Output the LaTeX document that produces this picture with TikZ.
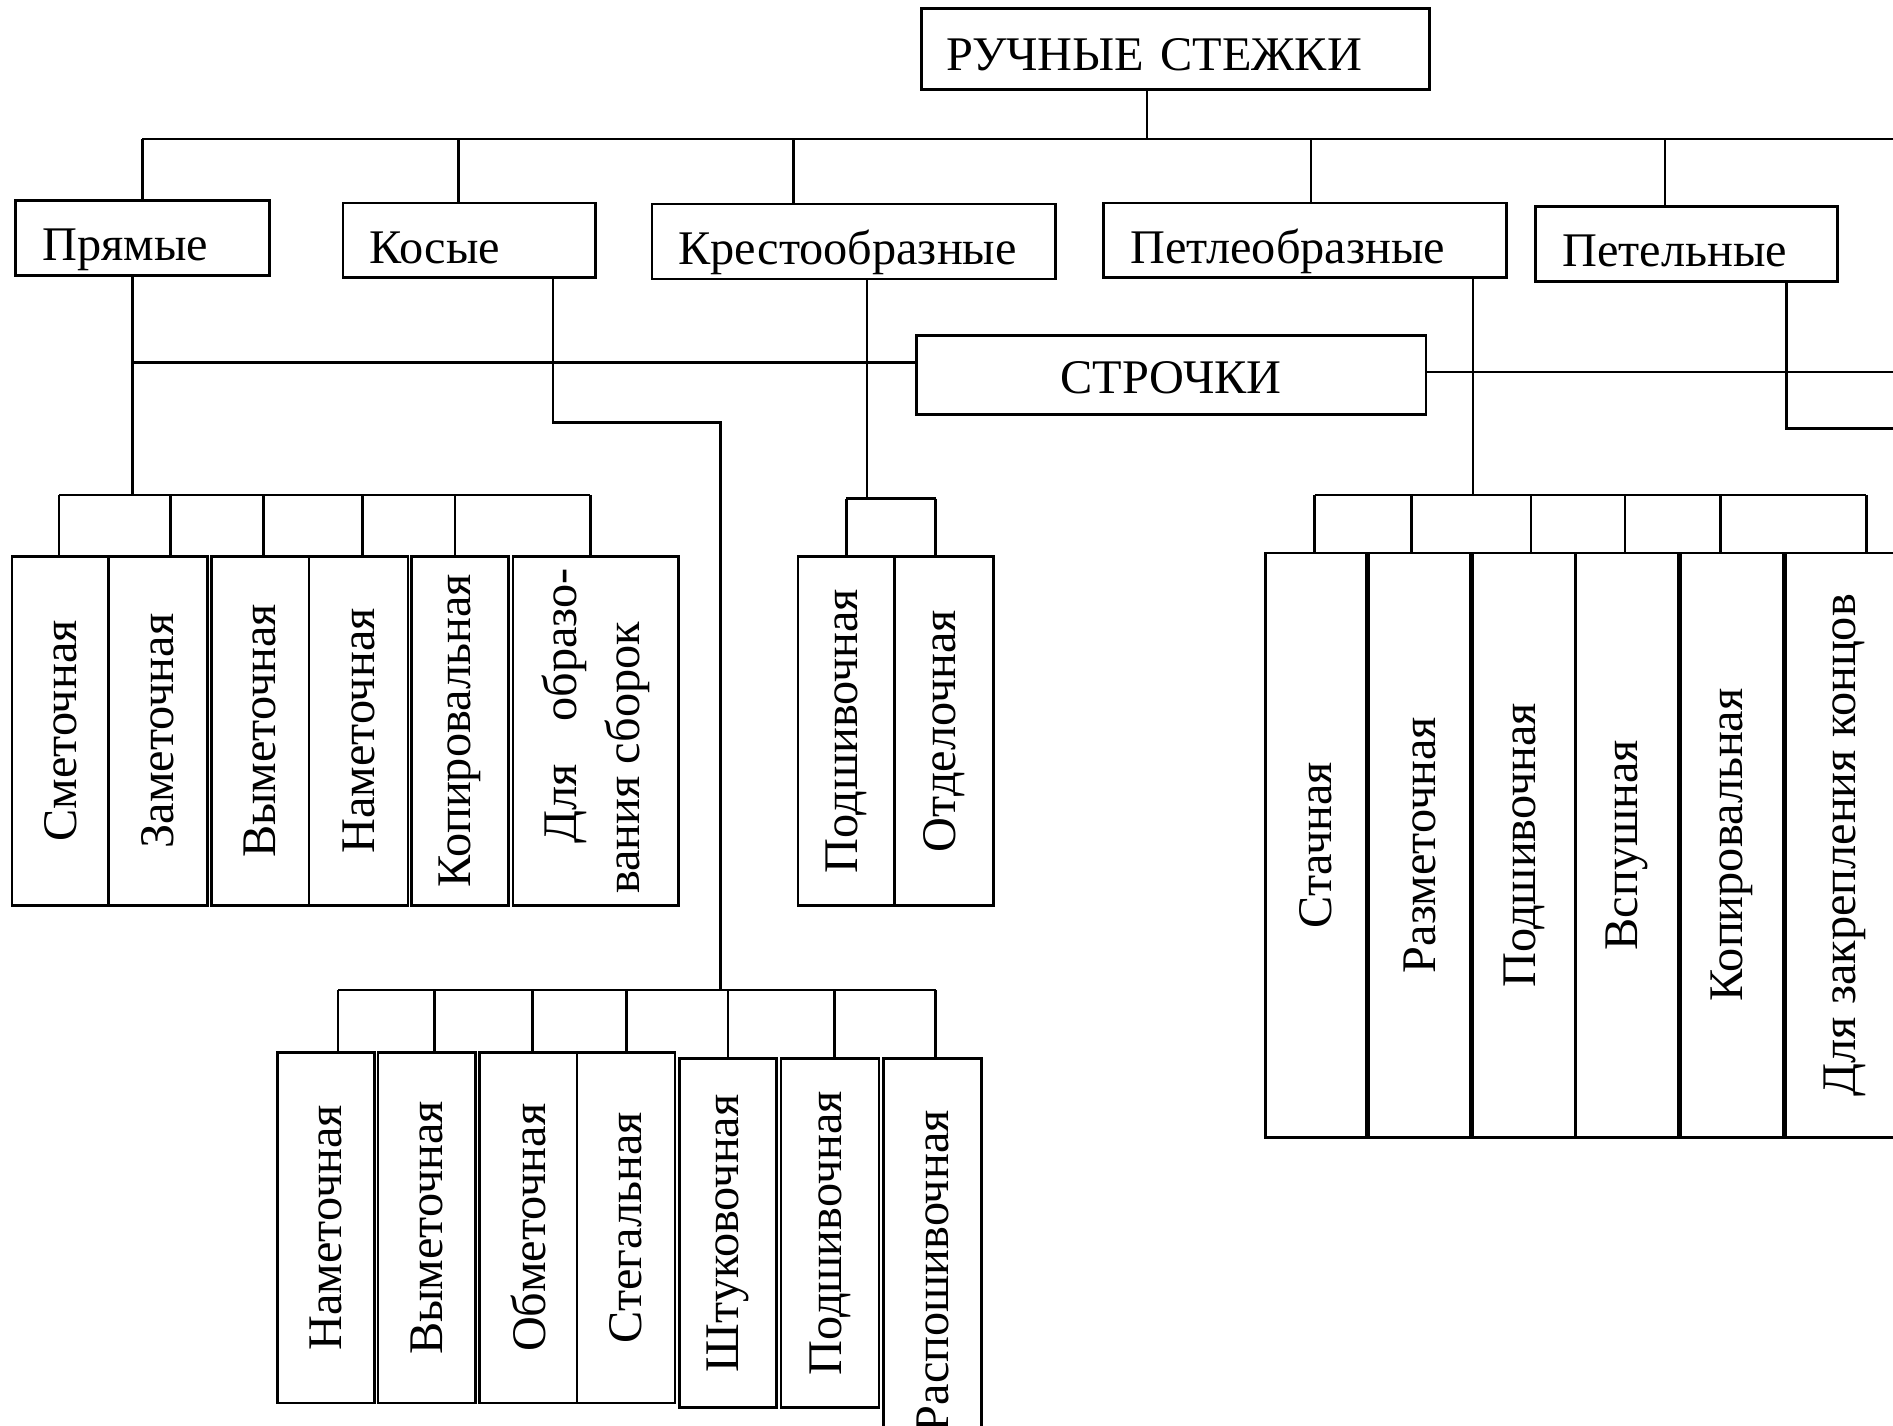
\documentclass[tikz,border=0pt]{standalone}
\usepackage{fontspec}
\setmainfont{Liberation Serif}
\usetikzlibrary{calc}

\begin{document}
\begin{tikzpicture}[x=1pt,y=1pt,yscale=-1,
  font=\fontsize{40}{46}\selectfont,
  link/.style={line width=2.2pt},
  kind/.style={draw, link, anchor=north west, inner xsep=22pt, inner ysep=0pt,
    text height=50pt, text depth=12pt, align=left},
  vbox/.style={draw, link, rotate=90, inner sep=0pt, align=center}]

\useasboundingbox (0,0) rectangle (1568,1181);
\fill[white] (0,0) rectangle (1568,1181);
\clip (0,0) rectangle (1568,1181);

%Shape: Root
\node[kind, text width=379pt, inner xsep=21pt, text height=51pt, text depth=16pt] (root) at (762,6) {РУЧНЫЕ СТЕЖКИ};
%Shape: Stroki
\node[kind, text width=378pt, align=center, text height=48pt, text depth=17pt] (stroki) at (758,277) {СТРОЧКИ};

%Shape: kinds of stitches
\node[kind, text width=166pt] (pr) at (12,165) {Прямые};
\node[kind, text width=165pt] (ko) at (283,167) {Косые};
\node[kind, text width=290pt] (kr) at (539,168) {Крестообразные};
\node[kind, text width=290pt] (pe) at (913,167) {Петлеобразные};
\node[kind, text width=206pt] (pt) at (1271,170) {Петельные};

% Connection: root to kinds
\coordinate (top) at (950,115);
\coordinate (topR) at (1600,115);
\draw[link] (top |- root.south) -- (top);
\foreach \x/\n in {118/pr,380/ko,657/kr,1086/pe,1379/pt}{
  \coordinate (t-\n) at (\x,115);
  \draw[link] (t-\n) -- (t-\n |- \n.north);
}
\draw[link] (t-pr) -- (topR);

% Connection: stroki
\coordinate (sL) at (110,300);
\coordinate (sR) at (1600,308);
\draw[link] (sL) -- (sL -| stroki.west);
\draw[link] (stroki.east |- sR) -- (sR);

%Shape: group of Прямые
\foreach \n/\cx/\w/\t in {s1/50/80/Сметочная,s2/131/82/Заметочная,s3/215.5/81/Выметочная,
    s4/297/82/Наметочная,s5/381/80/Копировальная}
  \node[vbox, minimum width=289pt, minimum height=\w pt] (\n) at (\cx,605.5) {\t};
\node[vbox, minimum width=289pt, minimum height=137pt] (s6) at (493.5,605.5)
  {\fontsize{40}{52}\selectfont\parbox{270pt}{\hspace*{42pt}Для\hfill образо-\\вания сборок}};

\coordinate (b-pr) at (110,410);
\draw[link] (b-pr |- pr.south) -- (b-pr);
\foreach \x/\n in {49/s1,141/s2,218/s3,300/s4,377/s5,489/s6}{
  \coordinate (d-\n) at (\x,410);
  \draw[link] (d-\n) -- (d-\n |- \n.east);
}
\draw[link] (d-s1) -- (d-s6);

%Shape: group of Крестообразные
\node[vbox, minimum width=289pt, minimum height=80pt] (x1) at (701,605.5) {Подшивочная};
\node[vbox, minimum width=289pt, minimum height=82pt] (x2) at (782,605.5) {Отделочная};

\coordinate (b-kr) at (718,413);
\draw[link] (b-kr |- kr.south) -- (b-kr);
\foreach \x/\n in {701/x1,775/x2}{
  \coordinate (d-\n) at (\x,413);
  \draw[link] (d-\n) -- (d-\n |- \n.east);
}
\draw[link] (d-x1) -- (d-x2);

%Shape: group of Косые
\foreach \n/\cx/\w/\t in {n1/270/80/Наметочная,n2/353.5/81/Выметочная,
    n3/437.5/81/Обметочная,n4/518.5/81/Стегальная}
  \node[vbox, minimum width=290pt, minimum height=\w pt] (\n) at (\cx,1017) {\t};
\foreach \n/\cx/\w/\t in {n5/603/80/Штуковочная,n6/687.5/81/Подшивочная}
  \node[vbox, minimum width=289pt, minimum height=\w pt] (\n) at (\cx,1021.5) {\t};
\node[vbox, minimum width=352pt, minimum height=81pt] (n7) at (772.5,1053) {Распошивочная};

\coordinate (k1) at (458,350);
\coordinate (k2) at (597,350);
\coordinate (k3) at (597,820);
\draw[link] (k1 |- ko.south) -- (k1) -- (k2) -- (k3);
\foreach \x/\n in {280/n1,360/n2,441/n3,519/n4,603/n5,691/n6,775/n7}{
  \coordinate (d-\n) at (\x,820);
  \draw[link] (d-\n) -- (d-\n |- \n.east);
}
\draw[link] (d-n1) -- (d-n7);

%Shape: group of Петлеобразные
\foreach \n/\cx/\w/\t in {p1/1090/84/Стачная,p2/1176/84/Разметочная,p3/1262.5/85/Подшивочная,
    p4/1347.5/85/Вспушная,p5/1434.5/85/Копировальная,p6/1528/98/Для закрепления концов}
  \node[vbox, minimum width=484pt, minimum height=\w pt] (\n) at (\cx,700) {\t};

\coordinate (b-pe) at (1220,410);
\draw[link] (b-pe |- pe.south) -- (b-pe);
\foreach \x/\n in {1089/p1,1169/p2,1268/p3,1346/p4,1425/p5,1546/p6}{
  \coordinate (d-\n) at (\x,410);
  \draw[link] (d-\n) -- (d-\n |- \n.east);
}
\draw[link] (d-p1) -- (d-p6);

% Connection: Петельные
\coordinate (q1) at (1480,355);
\coordinate (q2) at (1600,355);
\draw[link] (q1 |- pt.south) -- (q1) -- (q2);

\end{tikzpicture}
\end{document}
